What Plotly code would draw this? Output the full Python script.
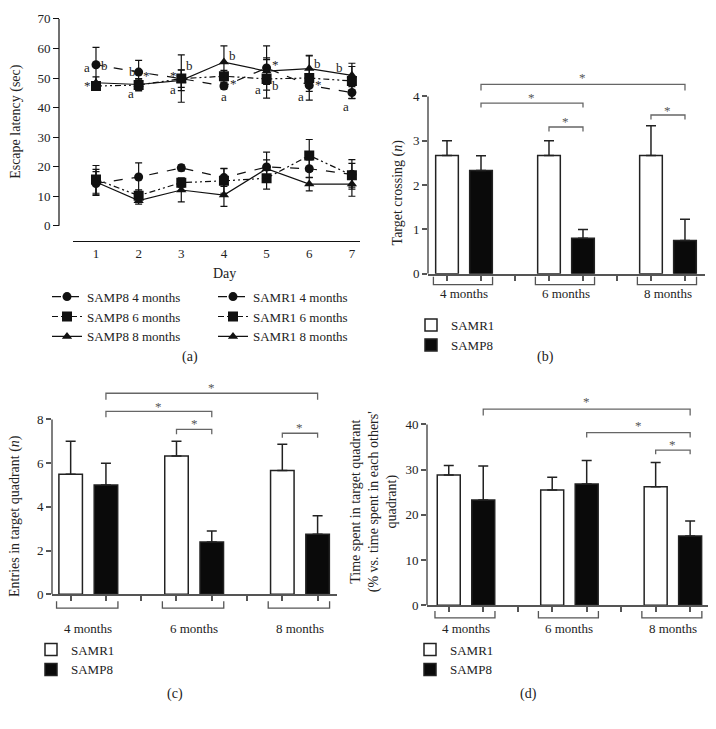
import plotly.graph_objects as go

# page body has an 8px margin, so the figure sits at (8, 8);
# keep it small enough that the page never scrolls
OFF = 8
W = 716 - OFF
H = 729 - 2 * OFF

# ---- panel (a) data: escape latency (sec) by day
days = [1, 2, 3, 4, 5, 6, 7]
samp8_4m = [54.5, 52.0, 49.8, 47.3, 53.4, 47.5, 45.1]
samp8_4m_err = [5.9, 4.0, 3.0, 1.0, 7.5, 2.0, 2.0]
samp8_6m = [47.3, 47.6, 49.8, 50.6, 49.7, 50.0, 49.0]
samp8_6m_err = [1.5, 2.0, 8.0, 2.0, 6.5, 7.5, 6.0]
samp8_8m = [48.4, 47.8, 49.2, 55.4, 52.3, 53.2, 50.9]
samp8_8m_err = [2.0, 2.0, 3.5, 5.5, 4.5, 4.5, 3.0]
samr1_4m = [14.3, 16.5, 19.6, 16.3, 19.9, 19.3, 17.4]
samr1_4m_err = [4.0, 4.8, 1.0, 3.0, 5.0, 3.0, 5.0]
samr1_6m = [15.7, 10.2, 14.6, 15.2, 16.1, 23.8, 17.1]
samr1_6m_err = [4.7, 2.0, 1.5, 4.2, 3.7, 5.4, 4.0]
samr1_8m = [14.8, 8.5, 12.1, 10.4, 19.3, 14.1, 14.1]
samr1_8m_err = [4.3, 1.2, 4.0, 3.8, 3.0, 2.3, 4.1]

# ---- bar panels
groups = ["4 months", "6 months", "8 months"]
b_samr1 = [2.67, 2.67, 2.67]
b_samr1_err = [0.33, 0.33, 0.67]
b_samp8 = [2.33, 0.8, 0.75]
b_samp8_err = [0.33, 0.2, 0.48]
c_samr1 = [5.5, 6.33, 5.67]
c_samr1_err = [1.5, 0.67, 1.2]
c_samp8 = [5.0, 2.4, 2.75]
c_samp8_err = [1.0, 0.5, 0.85]
d_samr1 = [28.8, 25.5, 26.2]
d_samr1_err = [2.1, 2.8, 5.4]
d_samp8 = [23.3, 26.8, 15.3]
d_samp8_err = [7.5, 5.2, 3.3]

FONT = "Liberation Serif"
TXT = "#222"
GRAY = "#555"


def px(x):
    return (x - OFF) / W


def py(y):
    return 1 - (y - OFF) / H


fig = go.Figure()

line_series = [
    ("SAMP8 4 months", samp8_4m, samp8_4m_err, "circle", "dash", "legend"),
    ("SAMP8 6 months", samp8_6m, samp8_6m_err, "square", "6px,3px,2px,3px,2px,3px", "legend"),
    ("SAMP8 8 months", samp8_8m, samp8_8m_err, "triangle-up", "solid", "legend"),
    ("SAMR1 4 months", samr1_4m, samr1_4m_err, "circle", "dash", "legend2"),
    ("SAMR1 6 months", samr1_6m, samr1_6m_err, "square", "6px,3px,2px,3px,2px,3px", "legend2"),
    ("SAMR1 8 months", samr1_8m, samr1_8m_err, "triangle-up", "solid", "legend2"),
]
for name, vals, err, sym, dash, leg in line_series:
    fig.add_trace(go.Scatter(
        x=days, y=vals, name=name, mode="lines+markers",
        line=dict(color="#111", width=1.2, dash=dash),
        marker=dict(symbol=sym, size=10 if sym == "square" else 9, color="#111"),
        error_y=dict(type="data", array=err, color="#111", thickness=1.2, width=3.5),
        xaxis="x", yaxis="y", legend=leg,
    ))

grp_x = list(range(len(groups)))
bar_panels = [
    ("2", b_samr1, b_samr1_err, b_samp8, b_samp8_err, "legend3"),
    ("3", c_samr1, c_samr1_err, c_samp8, c_samp8_err, "legend4"),
    ("4", d_samr1, d_samr1_err, d_samp8, d_samp8_err, "legend5"),
]
for ax, r1, r1e, p8, p8e, leg in bar_panels:
    for name, vals, err, fill in [("SAMR1", r1, r1e, "white"), ("SAMP8", p8, p8e, "#0a0a0a")]:
        fig.add_trace(go.Bar(
            x=grp_x, y=vals, name=name, offsetgroup=name,
            marker=dict(color=fill, line=dict(color="#222", width=1.5)),
            error_y=dict(type="data", array=err, arrayminus=[0] * len(err), symmetric=False,
                         color="#222", thickness=1.5, width=5),
            xaxis="x" + ax, yaxis="y" + ax, legend=leg,
        ))

tick_pos = sorted([g - 1 / 6 for g in grp_x] + [g + 1 / 6 for g in grp_x] + [0.5, 1.5])

axfont = dict(family=FONT, size=13, color=TXT)
layout = dict(
    width=W, height=H, margin=dict(l=0, r=0, t=0, b=0),
    paper_bgcolor="white", plot_bgcolor="white",
    font=dict(family=FONT, size=13, color=TXT),
    barmode="group", bargap=1 / 3, bargroupgap=1 / 3,
    xaxis=dict(domain=[px(73), px(360)], range=[0.461, 7.19], anchor="y",
               showline=True, linecolor="#111", linewidth=1.2, ticks="",
               tickvals=days, tickfont=axfont, showgrid=False, zeroline=False),
    yaxis=dict(domain=[py(240), py(11.5)], range=[-5.3, 70.5], anchor="free", position=px(59),
               tickvals=list(range(0, 71, 10)), ticks="outside", ticklen=6, tickcolor="#111",
               ticklabeloverflow="allow",
               tickfont=axfont, showline=False, showgrid=False, zeroline=False),
)
bar_geom = {
    "2": ([428, 705], [-0.353, 2.363], [273, 64.9], [0, 4.6], [0, 1, 2, 3, 4]),
    "3": ([52, 337], [-0.343, 2.35], [600, 383.7], [0, 9.7], [0, 2, 4, 6, 8]),
    "4": ([427, 715], [-0.377, 2.407], [611, 399], [0, 46], [0, 10, 20, 30, 40]),
}
for ax, (xd, xr, yd, yr, yt) in bar_geom.items():
    layout["xaxis" + ax] = dict(domain=[px(xd[0]), px(xd[1])], range=xr, anchor="y" + ax,
                                showline=True, linecolor=GRAY, linewidth=1.5, ticks="outside",
                                ticklen=5, tickcolor=GRAY, tickwidth=1.5, tickvals=tick_pos,
                                showticklabels=False, showgrid=False, zeroline=False)
    layout["yaxis" + ax] = dict(domain=[py(yd[0]), py(yd[1])], range=yr, anchor="x" + ax,
                                tickvals=yt, ticks="outside", ticklen=5, tickcolor=GRAY, tickwidth=1.5,
                                tickfont=axfont, showline=False, showgrid=False, zeroline=False)

leg_common = dict(xanchor="left", yanchor="top", bgcolor="rgba(0,0,0,0)",
                  font=dict(family=FONT, size=13, color=TXT), tracegroupgap=0, itemwidth=30)
layout["legend"] = dict(x=px(47), y=py(281), **leg_common)
layout["legend2"] = dict(x=px(213), y=py(281), **leg_common)
layout["legend3"] = dict(x=px(411), y=py(310), **leg_common)
layout["legend4"] = dict(x=px(31), y=py(641), **leg_common)
layout["legend5"] = dict(x=px(410), y=py(641), **leg_common)

fig.update_layout(**layout)

shapes = []
ann = []


def label(x, y, text, xref, yref, size=13, color=TXT, angle=0):
    ann.append(dict(x=x, y=y, xref=xref, yref=yref, text=text, showarrow=False,
                    xanchor="center", yanchor="middle", textangle=angle,
                    font=dict(family=FONT, size=size, color=color)))


# y axis lines (stop at top tick)
shapes.append(dict(type="line", xref="paper", yref="y", x0=px(59), x1=px(59), y0=0, y1=70,
                   line=dict(color="#111", width=1.2)))
for ax, (xd, xr, yd, yr, yt) in bar_geom.items():
    shapes.append(dict(type="line", xref="x" + ax + " domain", yref="y" + ax, x0=0, x1=0,
                       y0=0, y1=yt[-1], line=dict(color=GRAY, width=1.5)))

# group brackets + labels under bar axes
under = {"2": (276, 284, 293), "3": (607, 614, 635), "4": (617, 624, 635)}
for ax, (ytop, ybot, ylab) in under.items():
    for g, grp in zip(grp_x, groups):
        x0, x1 = g - 0.3, g + 0.28
        shapes.append(dict(type="path", xref="x" + ax, yref="paper",
                           path=f"M {x0},{py(ytop)} L {x0},{py(ybot)} L {x1},{py(ybot)} L {x1},{py(ytop)}",
                           line=dict(color=GRAY, width=1.3)))
        label(g, py(ylab), grp, "x" + ax, "paper")

# significance brackets
sig = {
    "2": [(1 / 6, 2 + 1 / 6, 4.27, 0.14, 4.42), (1 / 6, 1 + 1 / 6, 3.85, 0.1, 3.97),
          (1 - 1 / 6, 1 + 1 / 6, 3.31, 0.1, 3.44), (2 - 1 / 6, 2 + 1 / 6, 3.58, 0.1, 3.69)],
    "3": [(1 / 6, 2 + 1 / 6, 9.2, 0.3, 9.45), (1 / 6, 1 + 1 / 6, 8.37, 0.27, 8.6),
          (1 - 1 / 6, 1 + 1 / 6, 7.55, 0.23, 7.8), (2 - 1 / 6, 2 + 1 / 6, 7.37, 0.2, 7.62)],
    "4": [(1 / 6, 2 + 1 / 6, 43.4, 1.4, 45.0), (1 + 1 / 6, 2 + 1 / 6, 38.2, 1.1, 39.8),
          (2 - 1 / 6, 2 + 1 / 6, 34.3, 0.9, 35.6)],
}
for ax, items in sig.items():
    for x0, x1, y, drop, ys in items:
        shapes.append(dict(type="path", xref="x" + ax, yref="y" + ax,
                           path=f"M {x0},{y - drop} L {x0},{y} L {x1},{y} L {x1},{y - drop}",
                           line=dict(color="#666", width=1.3)))
        label((x0 + x1) / 2, ys, "*", "x" + ax, "y" + ax, color="#555")

# letters on panel (a)
marks_a = [
    (0.80, 53.4, "a"), (1.19, 54.2, "b"), (0.79, 47.5, "*"),
    (1.86, 52.3, "b"), (2.19, 50.9, "*"), (1.81, 44.7, "a"),
    (2.82, 50.9, "*"), (3.20, 54.2, "b"), (2.81, 46.2, "a"),
    (4.19, 57.6, "b"), (4.23, 48.2, "*"), (3.99, 43.7, "a"),
    (5.22, 54.5, "*"), (4.80, 46.2, "a"), (5.20, 47.6, "b"),
    (6.20, 55.0, "b"), (6.22, 47.8, "*"), (5.81, 43.6, "a"),
    (6.71, 53.6, "b"), (6.86, 40.3, "a"), (7.28, 47.1, "*"),
]
for x, y, t in marks_a:
    label(x, y, t, "x", "y")

# axis titles and panel labels
titles = [
    (16, 118, "Escape latency (sec)", -90),
    (224, 273, "Day", 0),
    (398, 190, "Target crossing (<i>n</i>)", -90),
    (15, 520, "Entries in target quadrant (<i>n</i>)", -90),
    (374, 505, "Time spent in target quadrant<br>(% vs. time spent in each others'<br>quadrant)", -90),
    (190, 358, "(a)", 0),
    (545, 358, "(b)", 0),
    (175, 702, "(c)", 0),
    (528, 702, "(d)", 0),
]
for x, y, t, ang in titles:
    label(px(x), py(y), t, "paper", "paper", size=14, angle=ang)

fig.update_layout(shapes=shapes, annotations=ann)
fig.write_html("out.html")
